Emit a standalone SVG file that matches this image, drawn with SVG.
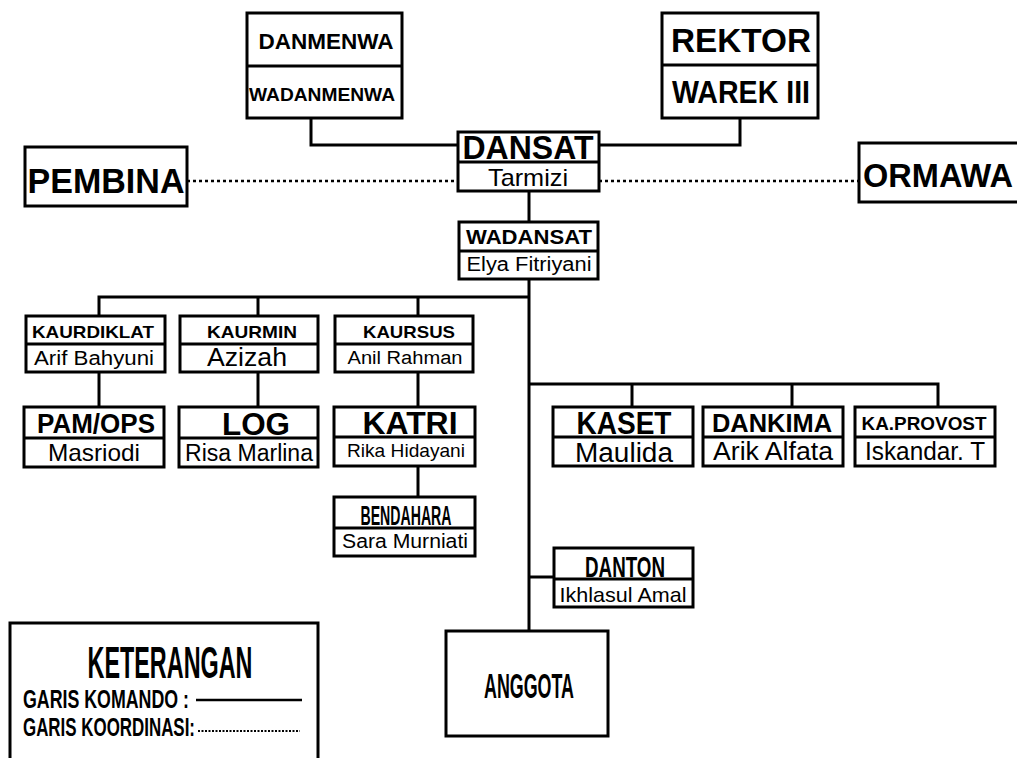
<svg xmlns="http://www.w3.org/2000/svg" width="1017" height="758" viewBox="0 0 1017 758">
<style>
.box{fill:#fff;stroke:#000;stroke-width:3}
.dv{stroke:#000;stroke-width:3}
.b{font-family:"Liberation Sans",Arial,sans-serif;font-weight:bold;fill:#000;text-anchor:middle}
.r{font-family:"Liberation Sans",Arial,sans-serif;fill:#000;text-anchor:middle}
.n{font-family:"Liberation Sans Narrow","Liberation Sans",Arial,sans-serif;font-weight:bold;fill:#000;text-anchor:middle}
.ns{font-family:"Liberation Sans Narrow","Liberation Sans",Arial,sans-serif;font-weight:bold;fill:#000;text-anchor:start}
.cmd{stroke:#000;stroke-width:3;fill:none}
.dot{stroke:#000;stroke-width:2.5;stroke-dasharray:3 3;fill:none}
</style>
<rect width="1017" height="758" fill="#fff"/>
<g id="connectors">
<path class="cmd" d="M311,118 V145 H458"/>
<path class="cmd" d="M740,118 V145 H599"/>
<path class="cmd" d="M529,191 V222"/>
<path class="cmd" d="M529,279 V631"/>
<path class="cmd" d="M99,316 V297 H529"/>
<path class="cmd" d="M258,297 V316"/>
<path class="cmd" d="M418,297 V316"/>
<path class="cmd" d="M99,372 V407"/>
<path class="cmd" d="M258,372 V407"/>
<path class="cmd" d="M418,372 V407"/>
<path class="cmd" d="M418,466 V497"/>
<path class="cmd" d="M529,384 H938 V407"/>
<path class="cmd" d="M632,384 V407"/>
<path class="cmd" d="M792,384 V407"/>
<path class="cmd" d="M529,577 H554"/>
<path class="dot" d="M187,181 H458"/>
<path class="dot" d="M599,181 H859"/>
</g>
<g id="danmenwa">
<rect class="box" x="247" y="13" width="155" height="105"/>
<line class="dv" x1="247" y1="66" x2="402" y2="66"/>
<text class="b" x="326" y="49" font-size="22" textLength="135" lengthAdjust="spacingAndGlyphs">DANMENWA</text>
<text class="b" x="322" y="101" font-size="19" textLength="146" lengthAdjust="spacingAndGlyphs">WADANMENWA</text>
</g>
<g id="rektor">
<rect class="box" x="662" y="13" width="156" height="105"/>
<line class="dv" x1="662" y1="65" x2="818" y2="65"/>
<text class="b" x="741" y="52" font-size="34" textLength="140" lengthAdjust="spacingAndGlyphs">REKTOR</text>
<text class="b" x="741" y="103" font-size="32" textLength="138" lengthAdjust="spacingAndGlyphs">WAREK III</text>
</g>
<g id="dansat">
<rect class="box" x="458" y="132" width="141" height="59"/>
<line class="dv" x1="458" y1="162" x2="599" y2="162"/>
<text class="b" x="528" y="159" font-size="33" textLength="131" lengthAdjust="spacingAndGlyphs">DANSAT</text>
<text class="r" x="528" y="186" font-size="24" textLength="80" lengthAdjust="spacingAndGlyphs">Tarmizi</text>
</g>
<g id="pembina">
<rect class="box" x="25" y="147" width="162" height="59"/>
<text class="b" x="106" y="193" font-size="35" textLength="157" lengthAdjust="spacingAndGlyphs">PEMBINA</text>
</g>
<g id="ormawa">
<rect class="box" x="859" y="143" width="165" height="59"/>
<text class="b" x="938" y="187" font-size="33" textLength="150" lengthAdjust="spacingAndGlyphs">ORMAWA</text>
</g>
<g id="wadansat">
<rect class="box" x="459" y="222" width="139" height="57"/>
<line class="dv" x1="459" y1="251" x2="598" y2="251"/>
<text class="b" x="529" y="244" font-size="21" textLength="126" lengthAdjust="spacingAndGlyphs">WADANSAT</text>
<text class="r" x="529" y="271" font-size="20" textLength="125" lengthAdjust="spacingAndGlyphs">Elya Fitriyani</text>
</g>
<g id="kaurdiklat">
<rect class="box" x="26" y="316" width="139" height="56"/>
<line class="dv" x1="26" y1="344" x2="165" y2="344"/>
<text class="b" x="93" y="338" font-size="17" textLength="122" lengthAdjust="spacingAndGlyphs">KAURDIKLAT</text>
<text class="r" x="94" y="365" font-size="20" textLength="120" lengthAdjust="spacingAndGlyphs">Arif Bahyuni</text>
</g>
<g id="kaurmin">
<rect class="box" x="180" y="316" width="138" height="56"/>
<line class="dv" x1="180" y1="344" x2="318" y2="344"/>
<text class="b" x="252" y="338" font-size="17" textLength="90" lengthAdjust="spacingAndGlyphs">KAURMIN</text>
<text class="r" x="247" y="366" font-size="25" textLength="80" lengthAdjust="spacingAndGlyphs">Azizah</text>
</g>
<g id="kaursus">
<rect class="box" x="335" y="316" width="138" height="56"/>
<line class="dv" x1="335" y1="344" x2="473" y2="344"/>
<text class="b" x="409" y="338" font-size="17" textLength="92" lengthAdjust="spacingAndGlyphs">KAURSUS</text>
<text class="r" x="405" y="364" font-size="18" textLength="115" lengthAdjust="spacingAndGlyphs">Anil Rahman</text>
</g>
<g id="pamops">
<rect class="box" x="24" y="407" width="140" height="60"/>
<line class="dv" x1="24" y1="438" x2="164" y2="438"/>
<text class="b" x="96" y="433" font-size="27" textLength="118" lengthAdjust="spacingAndGlyphs">PAM/OPS</text>
<text class="r" x="94" y="461" font-size="24" textLength="92" lengthAdjust="spacingAndGlyphs">Masriodi</text>
</g>
<g id="log">
<rect class="box" x="179" y="407" width="139" height="60"/>
<line class="dv" x1="179" y1="438" x2="318" y2="438"/>
<text class="b" x="256" y="435" font-size="32" textLength="68" lengthAdjust="spacingAndGlyphs">LOG</text>
<text class="r" x="249" y="461" font-size="23" textLength="128" lengthAdjust="spacingAndGlyphs">Risa Marlina</text>
</g>
<g id="katri">
<rect class="box" x="334" y="407" width="141" height="59"/>
<line class="dv" x1="334" y1="437" x2="475" y2="437"/>
<text class="b" x="410" y="434" font-size="31" textLength="95" lengthAdjust="spacingAndGlyphs">KATRI</text>
<text class="r" x="406" y="457" font-size="19" textLength="118" lengthAdjust="spacingAndGlyphs">Rika Hidayani</text>
</g>
<g id="bendahara">
<rect class="box" x="334" y="497" width="141" height="59"/>
<line class="dv" x1="334" y1="528" x2="475" y2="528"/>
<text class="n" x="406" y="525" font-size="27" textLength="91" lengthAdjust="spacingAndGlyphs">BENDAHARA</text>
<text class="r" x="405" y="548" font-size="20" textLength="126" lengthAdjust="spacingAndGlyphs">Sara Murniati</text>
</g>
<g id="kaset">
<rect class="box" x="553" y="407" width="140" height="59"/>
<line class="dv" x1="553" y1="437" x2="693" y2="437"/>
<text class="b" x="624" y="434" font-size="31" textLength="95" lengthAdjust="spacingAndGlyphs">KASET</text>
<text class="r" x="624" y="462" font-size="27" textLength="98" lengthAdjust="spacingAndGlyphs">Maulida</text>
</g>
<g id="dankima">
<rect class="box" x="703" y="407" width="140" height="59"/>
<line class="dv" x1="703" y1="437" x2="843" y2="437"/>
<text class="b" x="772" y="432" font-size="26" textLength="120" lengthAdjust="spacingAndGlyphs">DANKIMA</text>
<text class="r" x="773" y="460" font-size="25" textLength="120" lengthAdjust="spacingAndGlyphs">Arik Alfata</text>
</g>
<g id="kaprovost">
<rect class="box" x="855" y="407" width="140" height="59"/>
<line class="dv" x1="855" y1="437" x2="995" y2="437"/>
<text class="b" x="924" y="430" font-size="18" textLength="125" lengthAdjust="spacingAndGlyphs">KA.PROVOST</text>
<text class="r" x="925" y="460" font-size="25" textLength="120" lengthAdjust="spacingAndGlyphs">Iskandar. T</text>
</g>
<g id="danton">
<rect class="box" x="554" y="548" width="139" height="59"/>
<line class="dv" x1="554" y1="579" x2="693" y2="579"/>
<text class="n" x="625" y="577" font-size="30" textLength="80" lengthAdjust="spacingAndGlyphs">DANTON</text>
<text class="r" x="623" y="602" font-size="21" textLength="127" lengthAdjust="spacingAndGlyphs">Ikhlasul Amal</text>
</g>
<g id="anggota">
<rect class="box" x="446" y="631" width="162" height="105"/>
<text class="n" x="529" y="698" font-size="35" textLength="90" lengthAdjust="spacingAndGlyphs">ANGGOTA</text>
</g>
<g id="keterangan">
<rect class="box" x="10" y="623" width="308" height="150"/>
<text class="n" x="170" y="678" font-size="44" textLength="165" lengthAdjust="spacingAndGlyphs">KETERANGAN</text>
<text class="ns" x="23" y="708" font-size="25" textLength="166" lengthAdjust="spacingAndGlyphs">GARIS KOMANDO :</text>
<line x1="196" y1="700" x2="302" y2="700" stroke="#000" stroke-width="2.5"/>
<text class="ns" x="23" y="736" font-size="25" textLength="172" lengthAdjust="spacingAndGlyphs">GARIS KOORDINASI:</text>
<line x1="198" y1="731" x2="300" y2="731" stroke="#000" stroke-width="2" stroke-dasharray="2 1.5"/>
</g>
</svg>
